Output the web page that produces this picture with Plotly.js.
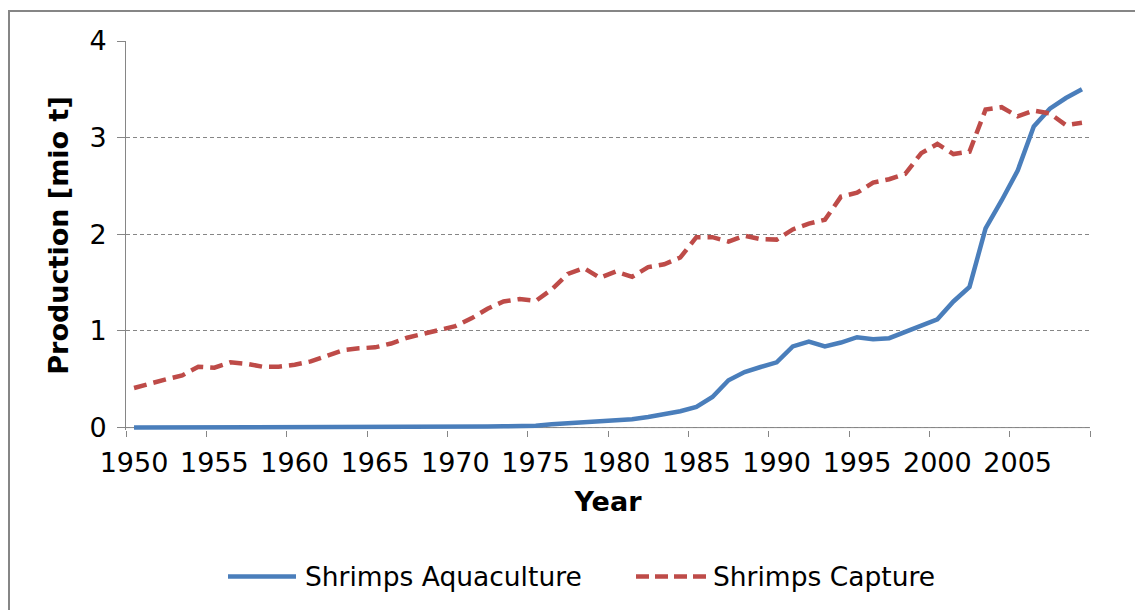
<!DOCTYPE html>
<html>
<head>
<meta charset="utf-8">
<script src="https://cdn.plot.ly/plotly-3.0.1.min.js"></script>
<style>html,body{margin:0;padding:0;background:#fff;}#chart{width:1135px;height:610px;}</style>
</head>
<body>
<div id="chart"></div>
<script>
const years = [];
for (let y = 1950; y <= 2009; y++) years.push(y);

const aquaculture = [
  0.0, 0.0, 0.0, 0.0, 0.0, 0.0, 0.0, 0.0, 0.0, 0.0,
  0.0, 0.0, 0.0, 0.0, 0.0, 0.0, 0.0, 0.0, 0.0, 0.0,
  0.0, 0.005, 0.01, 0.013, 0.015, 0.02, 0.034, 0.045, 0.055, 0.058,
  0.069, 0.086, 0.11, 0.138, 0.169, 0.214, 0.317, 0.49, 0.575, 0.627,
  0.675, 0.84, 0.89, 0.84, 0.88, 0.935, 0.915, 0.925, 0.995, 1.055,
  1.12, 1.305, 1.455, 2.06, 2.35, 2.66, 3.115, 3.30, 3.41, 3.50
];

const capture = [
  0.41, 0.46, 0.50, 0.54, 0.63, 0.62, 0.675, 0.66, 0.63, 0.63,
  0.65, 0.685, 0.74, 0.80, 0.82, 0.83, 0.87, 0.93, 0.97, 1.005,
  1.05, 1.13, 1.23, 1.305, 1.33, 1.31, 1.43, 1.59, 1.65, 1.55,
  1.615, 1.56, 1.66, 1.69, 1.76, 1.97, 1.97, 1.925, 1.985, 1.95,
  1.945, 2.05, 2.11, 2.15, 2.39, 2.43, 2.535, 2.57, 2.625, 2.84,
  2.935, 2.83, 2.855, 3.29, 3.315, 3.22, 3.28, 3.25, 3.13, 3.155
];

const seriesNames = ["Shrimps Aquaculture", "Shrimps Capture"];
const tickYears = [1950, 1955, 1960, 1965, 1970, 1975, 1980, 1985, 1990, 1995, 2000, 2005];

const FONT = "DejaVu Sans, Verdana, sans-serif";
const blue = "#4a7ebb";
const red = "#be4b48";
const grey = "#868686";

// tick marks at category boundaries, labels shifted to category centres
const tickVals = tickYears.map(y => y - 0.5).concat([2009.5]);
const tickText = tickYears.map(String).concat([""]);

const traces = [
  {x: years, y: aquaculture, name: seriesNames[0], type: "scatter", mode: "lines",
   line: {color: blue, width: 4.5}},
  {x: years, y: capture, name: seriesNames[1], type: "scatter", mode: "lines",
   line: {color: red, width: 4.5, dash: "13px,7px"}}
];

// plot area: y = 0 sits at pixel 428, 4 at 41 (96.75 px per unit);
// range starts slightly below 0 so the thick zero-level line is not clipped.
const L = 126, R = 1090, T = 41, Y0 = 428;
const PPU = 96.75, YMIN = -0.025;
const B = Y0 - YMIN * PPU;
const W = R - L, H = B - T;
const px = x => (x - L) / W;
const py = y => (B - y) / H;

const layout = {
  width: 1135, height: 610,
  margin: {l: L, r: 1135 - R, t: T, b: 610 - B},
  paper_bgcolor: "#fff", plot_bgcolor: "#fff",
  showlegend: false,
  font: {family: FONT, color: "#000", size: 27},
  xaxis: {
    range: [1949.5, 2009.5], tickmode: "array", tickvals: tickVals, ticktext: tickText,
    ticks: "outside", ticklen: 6, tickcolor: grey, tickwidth: 1,
    ticklabelshift: 8, ticklabelstandoff: 3,
    showline: false, showgrid: false, zeroline: false,
    tickfont: {family: FONT, size: 27, color: "#000"},
    title: {text: "<b>Year</b>", font: {family: FONT, size: 27, color: "#000"}, standoff: 14},
    automargin: false, fixedrange: true
  },
  yaxis: {
    range: [YMIN, 4], tickmode: "array", tickvals: [0, 1, 2, 3, 4], ticktext: ["0", "1", "2", "3", "4"],
    ticks: "outside", ticklen: 8, tickcolor: grey, tickwidth: 1, ticklabelstandoff: 5,
    showline: true, linecolor: grey, linewidth: 1,
    showgrid: true, gridcolor: grey, gridwidth: 1, griddash: "4px,3px", zeroline: false,
    tickfont: {family: FONT, size: 27, color: "#000"},
    title: {text: "<b>Production [mio t]</b>", font: {family: FONT, size: 27, color: "#000"}, standoff: 12},
    automargin: false, fixedrange: true
  },
  shapes: [
    {type: "rect", xref: "paper", yref: "paper", x0: px(9), x1: px(1150), y0: py(640), y1: py(11),
     line: {color: grey, width: 2}, fillcolor: "rgba(0,0,0,0)", layer: "below"},
    // horizontal category axis line at value 0
    {type: "line", xref: "paper", yref: "y", x0: 0, x1: 1, y0: 0, y1: 0,
     line: {color: grey, width: 1}, layer: "between"},
    {type: "line", xref: "paper", yref: "paper", x0: px(228), x1: px(296), y0: py(577), y1: py(577),
     line: {color: blue, width: 4.5}},
    {type: "line", xref: "paper", yref: "paper", x0: px(636), x1: px(706), y0: py(577), y1: py(577),
     line: {color: red, width: 4.5, dash: "13px,6px"}}
  ],
  annotations: [
    {xref: "paper", yref: "paper", x: px(303), y: py(577), xanchor: "left", yanchor: "middle",
     text: seriesNames[0], showarrow: false, font: {family: FONT, size: 26.5, color: "#000"}},
    {xref: "paper", yref: "paper", x: px(711), y: py(577), xanchor: "left", yanchor: "middle",
     text: seriesNames[1], showarrow: false, font: {family: FONT, size: 26.5, color: "#000"}}
  ]
};

Plotly.newPlot("chart", traces, layout, {displayModeBar: false, staticPlot: true});
</script>
</body>
</html>
